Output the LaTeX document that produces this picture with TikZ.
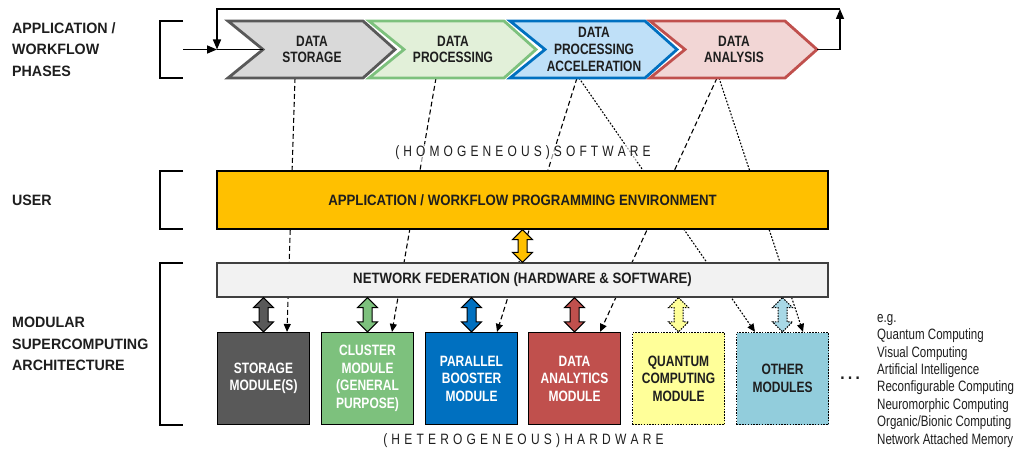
\documentclass[tikz,border=0pt]{standalone}
\usepackage{fontspec}
\setmainfont{Liberation Sans}
\newfontfamily\narrowsans[FakeStretch=0.80]{Liberation Sans}
\newfontfamily\widesans[FakeStretch=0.88]{Liberation Sans}
\newfontfamily\labelsans[FakeStretch=0.95]{Liberation Sans}
\newfontfamily\legendsans[FakeStretch=0.77]{Liberation Sans}
\usetikzlibrary{arrows.meta,calc,backgrounds}

\definecolor{ink}{HTML}{1E1E1E}
\definecolor{stofill}{HTML}{D9D9D9}
\definecolor{stoline}{HTML}{595959}
\definecolor{procfill}{HTML}{E2F0D9}
\definecolor{procline}{HTML}{7DC17D}
\definecolor{accfill}{HTML}{BFE0F8}
\definecolor{accline}{HTML}{0070C0}
\definecolor{anafill}{HTML}{F2D6D5}
\definecolor{analine}{HTML}{C0504D}
\definecolor{envfill}{HTML}{FFC000}
\definecolor{netfill}{HTML}{F2F2F2}
\definecolor{netline}{HTML}{404040}
\definecolor{storagemod}{HTML}{595959}
\definecolor{clustermod}{HTML}{7DC17D}
\definecolor{boostermod}{HTML}{0070C0}
\definecolor{analyticsmod}{HTML}{C0504D}
\definecolor{quantummod}{HTML}{FFFF99}
\definecolor{othermod}{HTML}{92CDDC}
\definecolor{otherarrow}{HTML}{A8D8E6}

% letter-spaced caption text
\makeatletter
\newcommand\spacedletters[2]{\def\sl@kern{#1}\@tfor\sl@tok:=#2\do{\sl@tok\kern\sl@kern}\unkern}
\makeatother

% one workflow phase: name, left x, fill, outline
\newcommand\phaseshape[4]{%
  \draw[phasebox, fill=#3, draw=#4] (#2,21) -- ++(135,0) -- ++(32,28.5)
    -- ++(-32,28.5) -- ++(-135,0) -- ++(35,-28.5) -- cycle;
  \coordinate (#1-notch) at (#2+35,49.5);
  \coordinate (#1-tip) at (#2+167,49.5);
}

% vertical two-headed block arrow between two points (top, bottom)
\newcommand\blockarrow[3]{%
  \path[#1] let \p1=(#2), \p2=(#3) in
    (\p1) -- ++(10pt,-10pt) -- ({\x1+4.5pt},{\y1-10pt}) -- ({\x1+4.5pt},{\y2+10pt})
    -- ({\x1+10pt},{\y2+10pt}) -- (\p2) -- ({\x1-10pt},{\y2+10pt})
    -- ({\x1-4.5pt},{\y2+10pt}) -- ({\x1-4.5pt},{\y1-10pt}) -- ({\x1-10pt},{\y1-10pt}) -- cycle;
}

\begin{document}
\begin{tikzpicture}[x=1pt,y=-1pt,
  every node/.style={inner sep=0pt},
  phasebox/.style={line width=2.8pt, line join=miter, miter limit=10},
  phaselabel/.style={font=\narrowsans\bfseries\fontsize{15}{16.8}\selectfont, align=center, text=ink},
  module/.style={draw=black, line width=1.2pt, minimum width=92pt, minimum height=92pt,
    font=\narrowsans\bfseries\fontsize{15}{17.5}\selectfont, align=center, text=white},
  futuremodule/.style={module, dash pattern=on 1.5pt off 1.3pt, text=ink},
  layerbox/.style={line width=1.2pt, minimum width=611pt,
    font=\widesans\bfseries\fontsize{15}{18}\selectfont, text=ink},
  sidelabel/.style={anchor=west, align=left, font=\labelsans\bfseries\fontsize{15}{21.5}\selectfont, text=ink},
  spaced/.style={font=\narrowsans\fontsize{15}{18}\selectfont, text=ink},
  flow/.style={line width=1.5pt, -{Triangle[length=10pt,width=8pt]}},
  plain/.style={line width=1.5pt},
  bracket/.style={line width=1.3pt},
  link/.style={line width=1.1pt, dash pattern=on 5pt off 3pt, -{Triangle[length=8pt,width=7pt]}},
  hint/.style={line width=1.1pt, dash pattern=on 1.8pt off 1.6pt, -{Triangle[length=8pt,width=7pt]}},
  busarrow/.style={draw=black, line width=1pt, line join=miter},
  futurearrow/.style={busarrow, dash pattern=on 1.5pt off 1.2pt},
]
\useasboundingbox (0,0) rectangle (1019,452);

% ---------- side labels and brackets ----------
\node[sidelabel] (lblphases) at (12,49.5) {APPLICATION /\\WORKFLOW\\PHASES};
\node[sidelabel] (lbluser) at (12,200) {USER};
\node[sidelabel] (lblmsa) at (12,344) {MODULAR\\SUPERCOMPUTING\\ARCHITECTURE};

\draw[bracket] (183,21) -| (160,78) -- (183,78);
\draw[bracket] (183,171) -| (160,229) -- (183,229);
\draw[bracket] (183,263) -| (160,425) -- (183,425);

% ---------- workflow phases ----------
\phaseshape{ph1}{228}{stofill}{stoline}
\phaseshape{ph2}{369}{procfill}{procline}
\phaseshape{ph3}{510}{accfill}{accline}
\phaseshape{ph4}{650}{anafill}{analine}

\node[phaselabel] (storage) at (312,49.5) {DATA\\STORAGE};
\node[phaselabel] (processing) at (453,49.5) {DATA\\PROCESSING};
\node[phaselabel] (acceleration) at (594,49.5) {DATA\\PROCESSING\\ACCELERATION};
\node[phaselabel] (analysis) at (734,49.5) {DATA\\ANALYSIS};

% feedback loop around the phases
\coordinate (loopR) at (840,9);
\coordinate (loopL) at (217,9);
\coordinate (entry) at (183,49.5);
\coordinate (merge) at (217,49.5);
\draw[flow] (ph4-tip) -| (loopR);
\draw[flow] (loopR) -- (loopL) -- (merge);
\draw[flow] (entry) -- (merge);
\draw[plain] (merge) -- (ph1-notch);

% ---------- software layer ----------
\node[spaced, fill=white, fill opacity=0.6, text opacity=1, inner sep=2pt] (software) at (523,153)
  {\spacedletters{4.1pt}{(HOMOGENEOUS)SOFTWARE}};

\node[layerbox, draw=black, fill=envfill, minimum height=58pt] (env) at (522.5,200)
  {APPLICATION / WORKFLOW PROGRAMMING ENVIRONMENT};

\node[layerbox, draw=netline, fill=netfill, minimum height=34pt] (net) at (522.5,280)
  {NETWORK FEDERATION (HARDWARE \& SOFTWARE)};

% ---------- modules ----------
\node[module, fill=storagemod] (m1) at (263.5,378.5) {STORAGE\\MODULE(S)};
\node[module, fill=clustermod] (m2) at (367.5,378.5) {CLUSTER\\MODULE\\(GENERAL\\PURPOSE)};
\node[module, fill=boostermod] (m3) at (471.5,378.5) {PARALLEL\\BOOSTER\\MODULE};
\node[module, fill=analyticsmod] (m4) at (574.5,378.5) {DATA\\ANALYTICS\\MODULE};
\node[futuremodule, fill=quantummod] (m5) at (678.5,378.5) {QUANTUM\\COMPUTING\\MODULE};
\node[futuremodule, fill=othermod] (m6) at (782.5,378.5) {OTHER\\MODULES};

\node[font=\fontsize{24}{24}\selectfont, text=ink] (more) at (850,378) {…};

\node[spaced] (hardware) at (523.5,441)
  {\spacedletters{4.2pt}{(HETEROGENEOUS)HARDWARE}};

\node[anchor=north west, align=left, font=\legendsans\fontsize{15}{17.4}\selectfont, text=ink]
  (examples) at (877,310)
  {\strut e.g.\\Quantum Computing\\Visual Computing\\Artificial Intelligence\\Reconfigurable Computing\\Neuromorphic Computing\\Organic/Bionic Computing\\Network Attached Memory};

% ---------- block arrows ----------
\blockarrow{busarrow, fill=envfill}{env.south}{net.north}
\blockarrow{busarrow, fill=storagemod}{m1.north |- net.south}{m1.north}
\blockarrow{busarrow, fill=clustermod}{m2.north |- net.south}{m2.north}
\blockarrow{busarrow, fill=boostermod}{m3.north |- net.south}{m3.north}
\blockarrow{busarrow, fill=analyticsmod}{m4.north |- net.south}{m4.north}
\blockarrow{futurearrow, fill=quantummod}{m5.north |- net.south}{m5.north}
\blockarrow{futurearrow, fill=otherarrow}{m6.north |- net.south}{m6.north}

% ---------- mapping of phases onto modules ----------
\coordinate (ph1-out) at (295,78);
\coordinate (ph2-out) at (436,78);
\coordinate (ph3-outA) at (577,78);
\coordinate (ph3-outB) at (579,78);
\coordinate (ph4-outA) at (717,78);
\coordinate (ph4-outB) at (719,78);
\begin{scope}[on background layer]
  \draw[link] (ph1-out) -- ($(m1.north)+(23.5,0)$);
  \draw[link] (ph2-out) -- ($(m2.north)+(24.5,0)$);
  \draw[link] (ph3-outA) -- ($(m3.north)+(25.5,0)$);
  \draw[hint] (ph3-outB) -- ($(m6.north)+(-27.5,0)$);
  \draw[link] (ph4-outA) -- ($(m4.north)+(25.5,0)$);
  \draw[hint] (ph4-outB) -- ($(m6.north)+(20.5,0)$);
\end{scope}
\end{tikzpicture}
\end{document}
